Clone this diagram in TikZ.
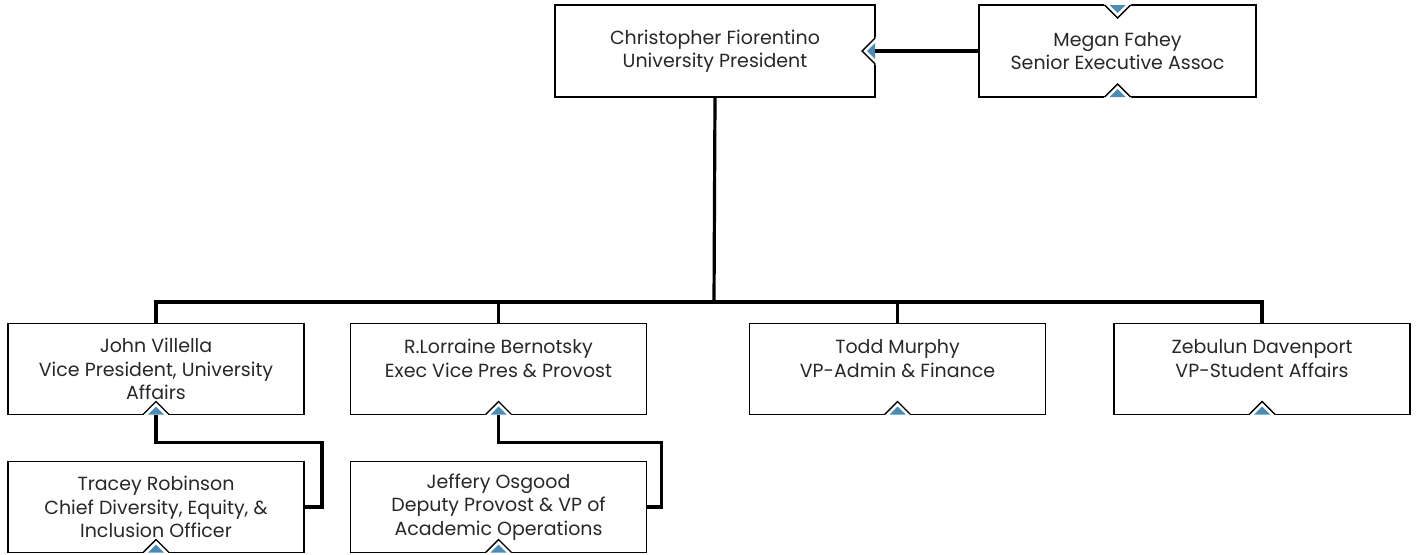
\documentclass[tikz,border=0pt]{standalone}
\usepackage{fontspec}
\setmainfont{Poppins}
\usetikzlibrary{calc}
\definecolor{tabblue}{RGB}{74,140,182}
\definecolor{inkgray}{RGB}{40,40,40}
\newcommand\tabroom[1]{\rule[-#1]{0pt}{0pt}}
\tikzset{
  person/.style={draw=black, line width=1.4pt, fill=white, outer sep=0pt, inner sep=0pt,
    align=center, text=inkgray, font=\fontsize{19}{23.5}\selectfont},
  vpbox/.style={person, minimum width=296pt, minimum height=91pt},
  conn/.style={line width=3.2pt},
}
% expand tabs on a box edge
\newcommand\uptab[1]{%
  \fill[white] ($(#1.south)+(-14,1)$) -- ($(#1.south)+(0,-13)$) -- ($(#1.south)+(14,1)$) -- cycle;
  \draw[line width=1.4pt] ($(#1.south)+(-13,0)$) -- ($(#1.south)+(0,-13)$) -- ($(#1.south)+(13,0)$);
  \fill[tabblue] ($(#1.south)+(-8,0)$) -- ($(#1.south)+(0,-8)$) -- ($(#1.south)+(8,0)$) -- cycle;}
\newcommand\downtab[1]{%
  \fill[white] ($(#1.north)+(-14,-1)$) -- ($(#1.north)+(0,13)$) -- ($(#1.north)+(14,-1)$) -- cycle;
  \draw[line width=1.4pt] ($(#1.north)+(-13,0)$) -- ($(#1.north)+(0,13)$) -- ($(#1.north)+(13,0)$);
  \fill[tabblue] ($(#1.north)+(-8,0)$) -- ($(#1.north)+(0,8)$) -- ($(#1.north)+(8,0)$) -- cycle;}
\newcommand\lefttab[1]{%
  \fill[white] ($(#1.east)+(1,-14)$) -- ($(#1.east)+(-13,0)$) -- ($(#1.east)+(1,14)$) -- cycle;
  \draw[line width=1.4pt] ($(#1.east)+(0,-13)$) -- ($(#1.east)+(-13,0)$) -- ($(#1.east)+(0,13)$);
  \fill[tabblue] ($(#1.east)+(0,-8)$) -- ($(#1.east)+(-8,0)$) -- ($(#1.east)+(0,8)$) -- cycle;}
\begin{document}
\begin{tikzpicture}[x=1pt,y=-1pt,line join=miter]
\useasboundingbox (0,0) rectangle (1418,554);
%% top row
  % Node: pres
  \node[person, minimum width=320pt, minimum height=92pt] (pres) at (715,51)
    {Christopher Fiorentino\\University President};
  % Node: assoc
  \node[person, minimum width=277pt, minimum height=92pt] (assoc) at (1117.5,51)
    {Megan Fahey\\Senior Executive Assoc};
%% vice presidents
  % Node: vpua
  \node[vpbox] (vpua) at (156,369) {John Villella\\Vice President, University\\Affairs};
  % Node: evp
  \node[vpbox] (evp) at (498.5,369) {R.Lorraine Bernotsky\\Exec Vice Pres \& Provost\tabroom{21pt}};
  % Node: vpaf
  \node[vpbox] (vpaf) at (897.5,369) {Todd Murphy\\VP-Admin \& Finance\tabroom{21pt}};
  % Node: vpsa
  \node[vpbox] (vpsa) at (1262,369) {Zebulun Davenport\\VP-Student Affairs\tabroom{21pt}};
%% assistants
  % Node: cdo
  \node[vpbox] (cdo) at (156,507) {Tracey Robinson\\Chief Diversity, Equity, \&\\Inclusion Officer};
  % Node: dpvp
  \node[vpbox] (dpvp) at (498.5,507) {Jeffery Osgood\\Deputy Provost \& VP of\\Academic Operations};
%% tabs
  \foreach \n in {assoc,vpua,evp,vpaf,vpsa,cdo,dpvp} {\uptab{\n}}
  \downtab{assoc}
  \lefttab{pres}
%% connectors
  \coordinate (bus) at (714,302);
  % Edge: pres -> vice presidents
  \draw[conn] (pres.south) -- (bus);
  \foreach \n in {vpua,evp,vpaf,vpsa} {\draw[conn] (bus) -| (\n.north);}
  % Edge: assoc -> pres
  \draw[conn] (assoc.west) -- (pres.east);
  % Edge: vpua -> cdo
  \draw[conn] (vpua.south) -- ++(0,28) -| ($(cdo.east)+(18,0)$) -- (cdo.east);
  % Edge: evp -> dpvp
  \draw[conn] (evp.south) -- ++(0,28) -| ($(dpvp.east)+(15,0)$) -- (dpvp.east);
\end{tikzpicture}
\end{document}
